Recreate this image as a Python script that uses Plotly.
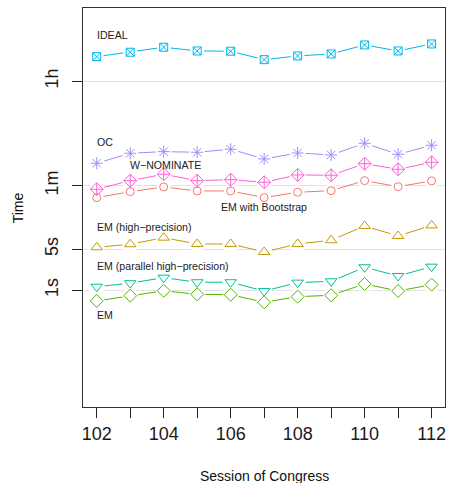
import math
import plotly.graph_objects as go

# Sessions of Congress
sessions = [102, 103, 104, 105, 106, 107, 108, 109, 110, 111, 112]

# Running time in seconds for each estimator
ideal = [9400, 11160, 13580, 11740, 11610, 8350, 9660, 10440, 14850, 11740, 15450]
oc = [144.5, 213.8, 227.6, 222.3, 250.0, 171.0, 216.0, 200.0, 316.0, 205.6, 292.0]
wnominate = [52.2, 73.1, 93.9, 73.1, 76.0, 68.7, 91.4, 90.3, 142.0, 114.2, 150.0]
em_boot = [37.6, 47.5, 57.1, 48.8, 48.8, 37.6, 46.4, 49.4, 73.1, 57.8, 72.3]
em_high = [5.39, 6.06, 7.85, 6.13, 6.13, 4.48, 6.13, 7.08, 12.4, 8.38, 12.7]
em_par = [1.15, 1.32, 1.64, 1.37, 1.37, 0.97, 1.35, 1.42, 2.46, 1.75, 2.52]
em = [0.658, 0.81, 0.98, 0.855, 0.84, 0.625, 0.778, 0.822, 1.28, 0.973, 1.245]

# Y-axis ticks (seconds) and labels
y_tickvals = [1, 5, 60, 3600]
y_ticktext = ["1s", "5s", "1m", "1h"]
x_tickvals = [102, 104, 106, 108, 110, 112]

# Series: name, values, colour, symbol, size, label position (session, seconds, anchor)
series = [
    ("IDEAL", ideal, "#00B6EB", "square-x-open", 8, (102, 21980, "left")),
    ("OC", oc, "#A58AFF", "asterisk-open", 10, (102, 329, "left")),
    ("W\u2212NOMINATE", wnominate, "#FB61D7", "diamond-cross-open", 10, (103, 135, "left")),
    ("EM with Bootstrap", em_boot, "#F8766D", "circle-open", 8, (107, 25.8, "center")),
    ("EM (high\u2212precision)", em_high, "#C49A00", "triangle-up-open", 10, (102, 12.07, "left")),
    ("EM (parallel high\u2212precision)", em_par, "#00C094", "triangle-down-open", 10, (102, 2.59, "left")),
    ("EM", em, "#53B400", "diamond-open", 10, (102, 0.38, "left")),
]

FONT = "Liberation Sans, Arial"

fig = go.Figure()

# Connecting lines
for name, vals, col, sym, sz, _ in series:
    fig.add_trace(go.Scatter(x=sessions, y=vals, mode="lines",
                             line=dict(color=col, width=1), showlegend=False,
                             hoverinfo="skip"))
# White halos leave a gap between line and point
for name, vals, col, sym, sz, _ in series:
    fig.add_trace(go.Scatter(x=sessions, y=vals, mode="markers",
                             marker=dict(symbol="circle", size=sz + 6, color="white",
                                         line=dict(width=0)),
                             showlegend=False, hoverinfo="skip"))
# Point symbols
for name, vals, col, sym, sz, _ in series:
    fig.add_trace(go.Scatter(x=sessions, y=vals, mode="markers", name=name,
                             marker=dict(symbol=sym, size=sz, color=col,
                                         line=dict(color=col, width=1)),
                             showlegend=False))

annotations = []
for name, vals, col, sym, sz, (lx, ly, anchor) in series:
    # annotation positions on a log axis are given in log10 units
    annotations.append(dict(x=lx, y=math.log10(ly), xref="x", yref="y", yanchor="middle",
                            xanchor=anchor, text=name, showarrow=False,
                            xshift=-2 if anchor == "left" else 0,
                            font=dict(family=FONT, size=10.6, color="#222222")))
# Axis titles
annotations.append(dict(x=0.5, y=-0.172, xref="paper", yref="paper", text="Session of Congress",
                        showarrow=False, xanchor="center", yanchor="middle",
                        font=dict(family=FONT, size=14, color="#111111")))
annotations.append(dict(x=-0.18, y=0.5, xref="paper", yref="paper", text="Time",
                        showarrow=False, xanchor="center", yanchor="middle", textangle=-90,
                        font=dict(family=FONT, size=14, color="#111111")))

fig.update_layout(
    width=449, height=483,
    margin=dict(l=83, r=4, t=8, b=76),
    paper_bgcolor="white", plot_bgcolor="white",
    annotations=annotations,
    showlegend=False,
)
fig.update_xaxes(range=[101.59, 112.4], tickvals=sessions,
                 ticktext=[str(s) if s in x_tickvals else "" for s in sessions],
                 ticks="outside", ticklen=10, tickwidth=1, tickcolor="#222222",
                 showline=True, linecolor="#333333", linewidth=1, mirror=True,
                 showgrid=False, zeroline=False,
                 tickfont=dict(family=FONT, size=18, color="#1a1a1a"))
fig.update_yaxes(type="log", range=[-1.985, 4.80], tickvals=y_tickvals, ticktext=y_ticktext,
                 tickangle=-90, ticks="outside", ticklen=10, tickwidth=1, tickcolor="#222222",
                 ticklabelstandoff=7,
                 showline=True, linecolor="#333333", linewidth=1, mirror=True,
                 showgrid=True, gridcolor="#e3e3e3", gridwidth=1, zeroline=False,
                 tickfont=dict(family=FONT, size=18, color="#1a1a1a"))

fig.write_html("out.html")
